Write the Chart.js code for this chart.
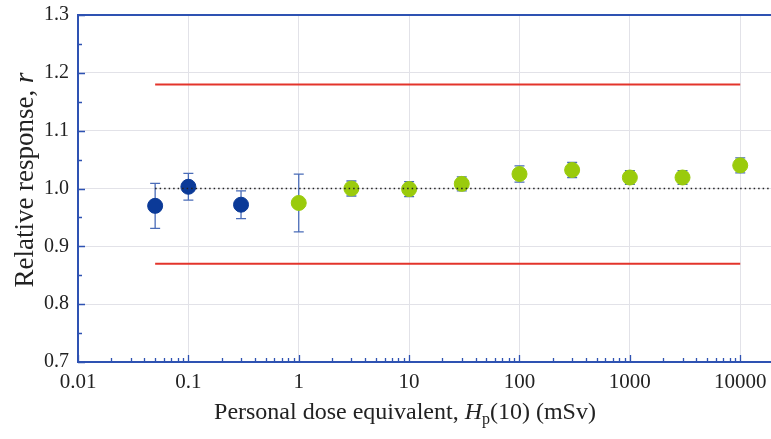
<!DOCTYPE html>
<html>
<head>
<meta charset="utf-8">
<script src="https://cdn.jsdelivr.net/npm/chart.js@4/dist/chart.umd.min.js"></script>
<style>
  html, body { margin: 0; padding: 0; background: #fff; overflow: hidden; }
  #wrap { width: 771px; height: 439px; }
</style>
</head>
<body>
<div id="wrap"><canvas id="responseChart"></canvas></div>
<script>
// dose points (mSv), relative response and its uncertainty
const doseBlue = [0.05, 0.1, 0.3];
const respBlue = [0.970, 1.003, 0.972];
const errBlue = [0.039, 0.023, 0.024];

const doseGreen = [1, 3, 10, 30, 100, 300, 1000, 3000, 10000];
const respGreen = [0.975, 1.000, 0.999, 1.008, 1.025, 1.032, 1.019, 1.019, 1.040];
const errGreen = [0.050, 0.013, 0.013, 0.012, 0.014, 0.013, 0.012, 0.012, 0.013];

// acceptance limits
const limitDose = [0.05, 10000];
const upperLimit = 1.18;
const lowerLimit = 0.87;
const refDose = [0.05, 19000];
const refValue = 1.0;

const xTicks = [0.01, 0.1, 1, 10, 100, 1000, 10000];
const yTicks = [0.7, 0.8, 0.9, 1.0, 1.1, 1.2, 1.3];

const axisBlue = '#2e52b2';
const serif = '"Liberation Serif", "DejaVu Serif", serif';

const toPoints = (xs, ys) => xs.map((x, i) => ({ x: x, y: ys[i] }));

// vertical error bars with caps, drawn under the markers
const errorBars = {
    id: 'errorBars',
    beforeDatasetsDraw(chart) {
        const { ctx, scales: { x, y } } = chart;
        const sets = [[doseBlue, respBlue, errBlue], [doseGreen, respGreen, errGreen]];
        ctx.save();
        ctx.strokeStyle = '#4a6cb8';
        ctx.lineWidth = 1.3;
        sets.forEach(([xs, ys, es]) => {
            xs.forEach((d, i) => {
                const px = x.getPixelForValue(d);
                const top = y.getPixelForValue(ys[i] + es[i]);
                const bot = y.getPixelForValue(ys[i] - es[i]);
                ctx.beginPath();
                ctx.moveTo(px, top); ctx.lineTo(px, bot);
                ctx.moveTo(px - 5, top); ctx.lineTo(px + 5, top);
                ctx.moveTo(px - 5, bot); ctx.lineTo(px + 5, bot);
                ctx.stroke();
            });
        });
        ctx.restore();
    }
};

// top frame line, inward tick marks and the axis titles
const frame = {
    id: 'frame',
    afterDraw(chart) {
        const { ctx, chartArea: a, scales: { x, y } } = chart;
        ctx.save();
        ctx.strokeStyle = axisBlue;
        ctx.lineWidth = 2;
        ctx.beginPath();
        ctx.moveTo(a.left - 1, y.getPixelForValue(y.max));
        ctx.lineTo(chart.width, y.getPixelForValue(y.max));
        ctx.stroke();

        ctx.lineWidth = 1.3;
        ctx.beginPath();
        xTicks.forEach(d => {
            for (let k = 1; k <= 9; k++) {
                const v = d * k;
                if (v > x.max) break;
                const px = Math.round(x.getPixelForValue(v)) + 0.5;
                const len = k === 1 ? 7 : 4;
                ctx.moveTo(px, a.bottom);
                ctx.lineTo(px, a.bottom - len);
            }
        });
        for (let i = 0; i < yTicks.length; i++) {
            const py = Math.round(y.getPixelForValue(yTicks[i])) + 0.5;
            ctx.moveTo(a.left, py);
            ctx.lineTo(a.left + 7, py);
            if (i < yTicks.length - 1) {
                const pm = Math.round(y.getPixelForValue(yTicks[i] + 0.05)) + 0.5;
                ctx.moveTo(a.left, pm);
                ctx.lineTo(a.left + 4, pm);
            }
        }
        ctx.stroke();

        // x title: Personal dose equivalent, Hp(10) (mSv)
        ctx.fillStyle = '#222';
        ctx.textBaseline = 'alphabetic';
        const parts = [
            ['Personal dose equivalent, ', '24px ' + serif, 0],
            ['H', 'italic 24px ' + serif, 0],
            ['p', '16px ' + serif, 5],
            ['(10) (mSv)', '24px ' + serif, 0]
        ];
        let total = 0;
        parts.forEach(p => { ctx.font = p[1]; total += ctx.measureText(p[0]).width; });
        let cx = 405 - total / 2;
        parts.forEach(p => {
            ctx.font = p[1];
            ctx.fillText(p[0], cx, 419 + p[2]);
            cx += ctx.measureText(p[0]).width;
        });

        // y title: Relative response, r
        ctx.translate(33, 180);
        ctx.rotate(-Math.PI / 2);
        const yParts = [
            ['Relative response, ', '27px ' + serif],
            ['r', 'italic 27px ' + serif]
        ];
        total = 0;
        yParts.forEach(p => { ctx.font = p[1]; total += ctx.measureText(p[0]).width; });
        cx = -total / 2;
        yParts.forEach(p => {
            ctx.font = p[1];
            ctx.fillText(p[0], cx, 0);
            cx += ctx.measureText(p[0]).width;
        });
        ctx.restore();
    }
};

new Chart(document.getElementById('responseChart'), {
    type: 'scatter',
    data: {
        datasets: [
            {
                label: 'Upper limit',
                type: 'line',
                data: toPoints(limitDose, [upperLimit, upperLimit]),
                borderColor: '#e3342b',
                borderWidth: 2,
                pointRadius: 0
            },
            {
                label: 'Lower limit',
                type: 'line',
                data: toPoints(limitDose, [lowerLimit, lowerLimit]),
                borderColor: '#e3342b',
                borderWidth: 2,
                pointRadius: 0
            },
            {
                label: 'Reference',
                type: 'line',
                data: toPoints(refDose, [refValue, refValue]),
                borderColor: '#222',
                borderWidth: 1.5,
                borderDash: [1.5, 3],
                pointRadius: 0
            },
            {
                label: 'Low dose',
                data: toPoints(doseBlue, respBlue),
                backgroundColor: '#0b3a98',
                borderColor: '#0b3a98',
                pointRadius: 7.5
            },
            {
                label: 'High dose',
                data: toPoints(doseGreen, respGreen),
                backgroundColor: '#9acb0c',
                borderColor: '#9acb0c',
                pointRadius: 7.5
            }
        ]
    },
    options: {
        responsive: true,
        maintainAspectRatio: false,
        animation: false,
        layout: { autoPadding: false, padding: { top: 15, right: 0, left: 0, bottom: 0 } },
        plugins: {
            legend: { display: false },
            tooltip: { enabled: false }
        },
        scales: {
            x: {
                type: 'logarithmic',
                min: 0.01,
                max: 19000,
                afterBuildTicks: scale => { scale.ticks = xTicks.map(v => ({ value: v })); },
                afterFit: scale => {
                    scale.height = 77;
                    scale.paddingLeft = 0;
                    scale.paddingRight = 0;
                },
                ticks: {
                    color: '#222',
                    font: { family: serif, size: 21 },
                    padding: 8,
                    maxRotation: 0,
                    autoSkip: false,
                    callback: v => String(v)
                },
                grid: { color: '#e2e2e8', lineWidth: 1, drawTicks: false },
                border: { color: axisBlue, width: 2 }
            },
            y: {
                min: 0.7,
                max: 1.3,
                afterBuildTicks: scale => { scale.ticks = yTicks.map(v => ({ value: v })); },
                afterFit: scale => {
                    scale.width = 78;
                    scale.paddingTop = 0;
                    scale.paddingBottom = 0;
                },
                ticks: {
                    color: '#222',
                    font: { family: serif, size: 20 },
                    padding: 9,
                    callback: v => v.toFixed(1)
                },
                grid: { color: '#e2e2e8', lineWidth: 1, drawTicks: false },
                border: { color: axisBlue, width: 2 }
            }
        }
    },
    plugins: [errorBars, frame]
});
</script>
</body>
</html>
